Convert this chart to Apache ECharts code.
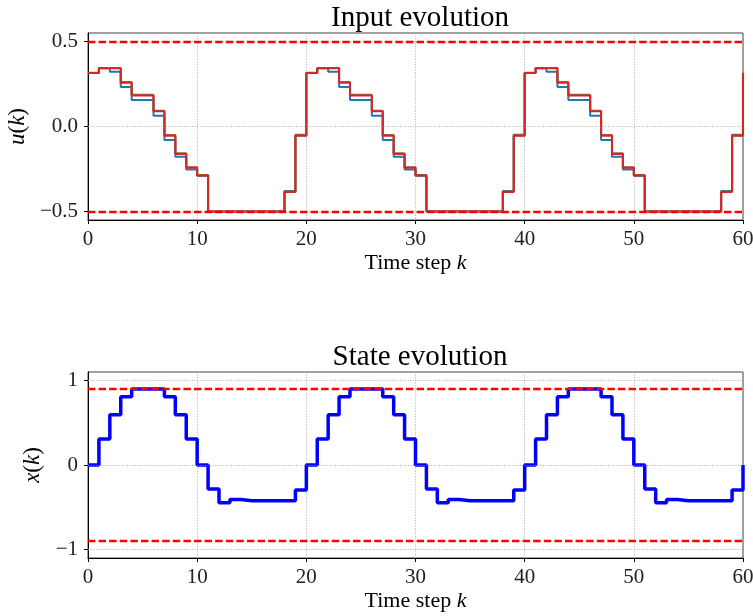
<!DOCTYPE html>
<html>
<head>
<meta charset="utf-8">
<script src="https://cdn.jsdelivr.net/npm/echarts@6/dist/echarts.min.js"></script>
<style>
  html, body { margin: 0; padding: 0; background: #fff; }
  #chart { width: 753px; height: 616px; }
</style>
</head>
<body>
<div id="chart"></div>
<script>
// Time steps k = 0 .. 60
const steps = [
  0, 1, 2, 3, 4, 5, 6, 7, 8, 9, 10, 11, 12, 13, 14, 15, 16, 17, 18, 19,
  20, 21, 22, 23, 24, 25, 26, 27, 28, 29, 30, 31, 32, 33, 34, 35, 36, 37, 38, 39,
  40, 41, 42, 43, 44, 45, 46, 47, 48, 49, 50, 51, 52, 53, 54, 55, 56, 57, 58, 59,
  60
];

// Input trajectories u(k)
const uBlue = [
  0.314, 0.342, 0.322, 0.233, 0.156, 0.156, 0.063, -0.079, -0.178, -0.253,
  -0.290, -0.5, -0.5, -0.5, -0.5, -0.5, -0.5, -0.5, -0.380, -0.048,
  0.314, 0.342, 0.322, 0.233, 0.156, 0.156, 0.063, -0.079, -0.178, -0.253,
  -0.290, -0.5, -0.5, -0.5, -0.5, -0.5, -0.5, -0.5, -0.380, -0.048,
  0.314, 0.342, 0.322, 0.233, 0.156, 0.156, 0.063, -0.079, -0.178, -0.253,
  -0.290, -0.5, -0.5, -0.5, -0.5, -0.5, -0.5, -0.5, -0.380, -0.048,
  0.314
];
const uBrown = [
  0.316, 0.344, 0.344, 0.262, 0.186, 0.186, 0.092, -0.050, -0.158, -0.240,
  -0.286, -0.5, -0.5, -0.5, -0.5, -0.5, -0.5, -0.5, -0.382, -0.052,
  0.316, 0.344, 0.344, 0.262, 0.186, 0.186, 0.092, -0.050, -0.158, -0.240,
  -0.286, -0.5, -0.5, -0.5, -0.5, -0.5, -0.5, -0.5, -0.382, -0.052,
  0.316, 0.344, 0.344, 0.262, 0.186, 0.186, 0.092, -0.050, -0.158, -0.240,
  -0.286, -0.5, -0.5, -0.5, -0.5, -0.5, -0.5, -0.5, -0.382, -0.052,
  0.316
];
const uRed = [
  0.314, 0.342, 0.342, 0.257, 0.182, 0.182, 0.089, -0.055, -0.162, -0.243,
  -0.288, -0.5, -0.5, -0.5, -0.5, -0.5, -0.5, -0.5, -0.385, -0.055,
  0.314, 0.342, 0.342, 0.257, 0.182, 0.182, 0.089, -0.055, -0.162, -0.243,
  -0.288, -0.5, -0.5, -0.5, -0.5, -0.5, -0.5, -0.5, -0.385, -0.055,
  0.314, 0.342, 0.342, 0.257, 0.182, 0.182, 0.089, -0.055, -0.162, -0.243,
  -0.288, -0.5, -0.5, -0.5, -0.5, -0.5, -0.5, -0.5, -0.385, -0.055,
  0.314
];

// State trajectory x(k)
const xState = [
  0, 0.309, 0.594, 0.808, 0.9, 0.9, 0.9, 0.808, 0.594, 0.309,
  0, -0.285, -0.447, -0.408, -0.424, -0.424, -0.424, -0.424, -0.424, -0.297,
  0, 0.309, 0.594, 0.808, 0.9, 0.9, 0.9, 0.808, 0.594, 0.309,
  0, -0.285, -0.447, -0.408, -0.424, -0.424, -0.424, -0.424, -0.424, -0.297,
  0, 0.309, 0.594, 0.808, 0.9, 0.9, 0.9, 0.808, 0.594, 0.309,
  0, -0.285, -0.447, -0.408, -0.424, -0.424, -0.424, -0.424, -0.424, -0.297,
  0
];

// Constraint bounds
const uBounds = [-0.5, 0.5];
const xBounds = [-0.9, 0.9];

// Axis ticks
const kTicks = [0, 10, 20, 30, 40, 50, 60];
const uTicks = [-0.5, 0, 0.5];
const uTickLabels = ['\u22120.5', '0.0', '0.5'];
const xTicks = [-1, 0, 1];
const xTickLabels = ['\u22121', '0', '1'];

const serif = 'Liberation Serif';
const pairs = (vals) => steps.map((k, i) => [k, vals[i]]);

function xAxisFor(gridIndex) {
  return {
    type: 'value', gridIndex: gridIndex, min: 0, max: 60, interval: 10,
    name: '{n|Time step }{i|k}', nameLocation: 'middle', nameGap: 32,
    nameTextStyle: {
      rich: {
        n: { fontFamily: serif, fontSize: 22, color: '#000' },
        i: { fontFamily: serif, fontSize: 22, fontStyle: 'italic', color: '#000' }
      }
    },
    axisLine: { show: true, onZero: false, lineStyle: { color: '#000', width: 1 } },
    axisTick: { show: true, inside: false, length: 4, customValues: kTicks, lineStyle: { color: '#000' } },
    axisLabel: { fontFamily: serif, fontSize: 21, color: '#222', margin: 9 },
    splitLine: { show: true, lineStyle: { color: '#999', width: 0.8, type: [1, 1.6] } }
  };
}

function yAxisFor(gridIndex, lo, hi, ticks, labels, letter, gap) {
  return {
    type: 'value', gridIndex: gridIndex, min: lo, max: hi,
    name: '{i|' + letter + '}(' + '{i|k})', nameLocation: 'middle', nameGap: gap,
    nameTextStyle: {
      fontFamily: serif, fontSize: 23, color: '#000',
      rich: { i: { fontFamily: serif, fontSize: 23, fontStyle: 'italic', color: '#000' } }
    },
    axisLine: { show: true, onZero: false, lineStyle: { color: '#000', width: 1 } },
    axisTick: { show: true, inside: false, length: 4, customValues: ticks, lineStyle: { color: '#000' } },
    axisLabel: {
      fontFamily: serif, fontSize: 21, color: '#222', margin: 10,
      customValues: ticks,
      formatter: (v) => {
        const idx = ticks.findIndex((t) => Math.abs(t - v) < 1e-9);
        return idx >= 0 ? labels[idx] : '';
      }
    },
    splitLine: { show: false }
  };
}

function gridLines(xIdx, yIdx, ticks) {
  return {
    type: 'line', xAxisIndex: xIdx, yAxisIndex: yIdx, data: [], z: 1, silent: true,
    markLine: {
      silent: true, symbol: ['none', 'none'], label: { show: false },
      lineStyle: { color: '#999', width: 0.8, type: [1, 1.6] },
      emphasis: { disabled: true },
      data: ticks.map((t) => ({ yAxis: t }))
    }
  };
}

function boundLines(xIdx, yIdx, bounds) {
  return {
    type: 'line', xAxisIndex: xIdx, yAxisIndex: yIdx, data: [], z: 10, silent: true,
    markLine: {
      silent: true, symbol: ['none', 'none'], label: { show: false },
      lineStyle: { color: '#ff0000', width: 2.3, type: [7.4, 3.2] },
      emphasis: { disabled: true },
      data: bounds.map((b) => ({ yAxis: b }))
    }
  };
}

function stepSeries(xIdx, yIdx, vals, color, width, z) {
  return {
    type: 'line', xAxisIndex: xIdx, yAxisIndex: yIdx, step: 'end',
    data: pairs(vals), showSymbol: false, symbol: 'none', z: z,
    lineStyle: { color: color, width: width }, emphasis: { disabled: true }
  };
}

const chart = echarts.init(document.getElementById('chart'), null, { renderer: 'canvas' });
chart.setOption({
  animation: false,
  backgroundColor: '#fff',
  title: [
    { text: 'Input evolution', left: 415, top: -1, textAlign: 'center',
      textStyle: { fontFamily: serif, fontSize: 29, fontWeight: 'normal', color: '#000' } },
    { text: 'State evolution', left: 415, top: 338, textAlign: 'center',
      textStyle: { fontFamily: serif, fontSize: 29, fontWeight: 'normal', color: '#000' } }
  ],
  grid: [
    { left: 88, top: 33, width: 655, height: 187, outerBoundsMode: 'none', containLabel: false,
      show: true, borderColor: '#444', borderWidth: 1, backgroundColor: 'transparent' },
    { left: 88, top: 372, width: 655, height: 186, outerBoundsMode: 'none', containLabel: false,
      show: true, borderColor: '#444', borderWidth: 1, backgroundColor: 'transparent' }
  ],
  xAxis: [xAxisFor(0), xAxisFor(1)],
  yAxis: [
    yAxisFor(0, -0.55, 0.55, uTicks, uTickLabels, 'u', 56),
    yAxisFor(1, -1.1, 1.1, xTicks, xTickLabels, 'x', 42)
  ],
  series: [
    gridLines(0, 0, uTicks),
    stepSeries(0, 0, uBlue, '#1f77b4', 2, 2),
    stepSeries(0, 0, uBrown, '#8c6a3c', 2.1, 3),
    stepSeries(0, 0, uRed, '#d62728', 2, 4),
    boundLines(0, 0, uBounds),
    gridLines(1, 1, xTicks),
    stepSeries(1, 1, xState, '#0000ff', 3.5, 4),
    boundLines(1, 1, xBounds)
  ]
});
</script>
</body>
</html>
